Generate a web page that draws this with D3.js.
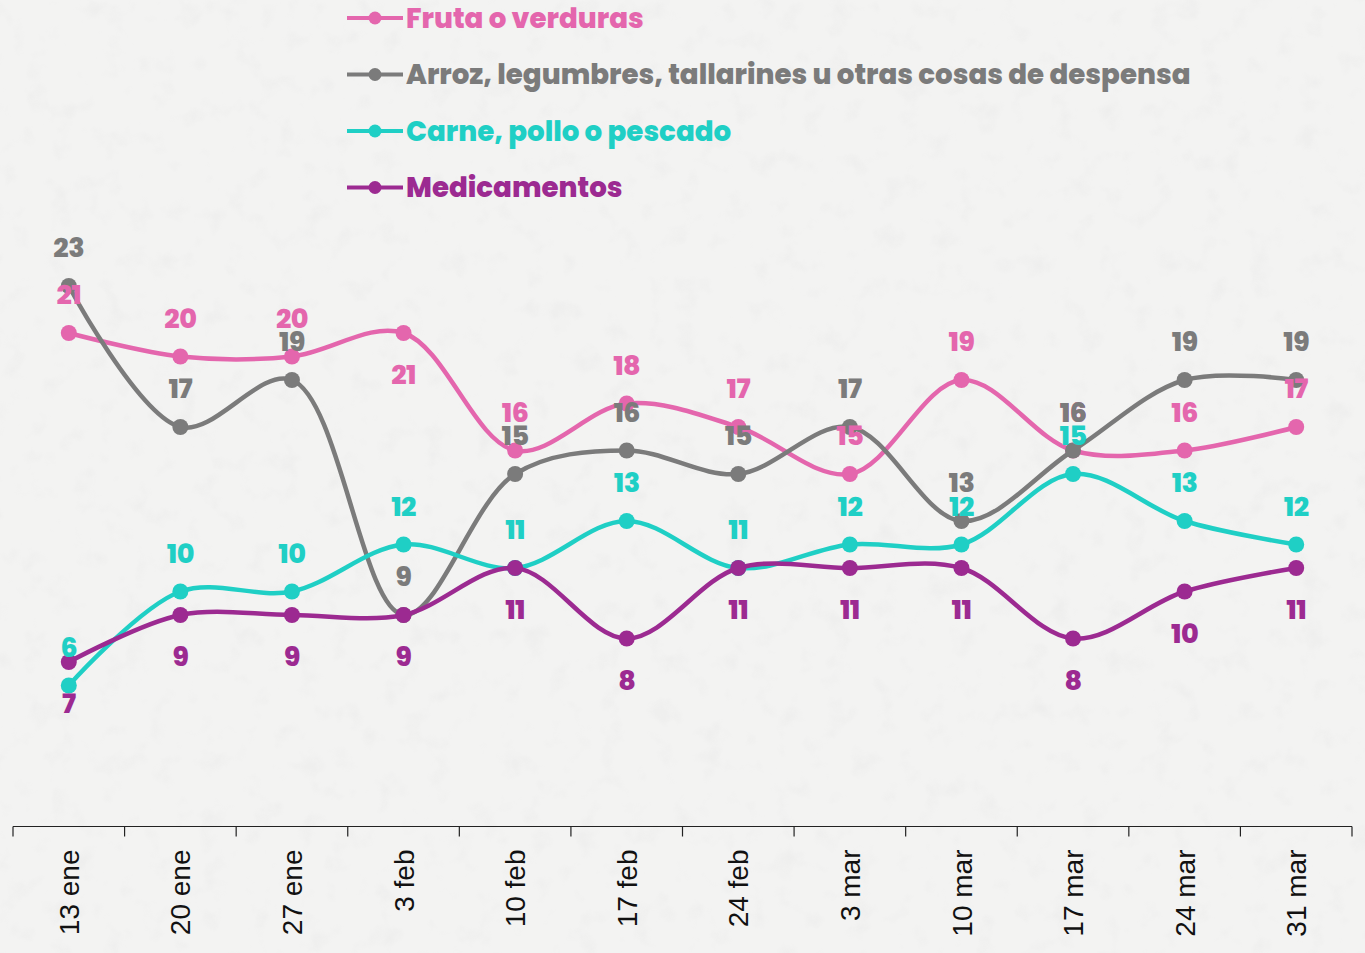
<!DOCTYPE html>
<html>
<head>
<meta charset="utf-8">
<script src="https://cdn.jsdelivr.net/npm/d3@7"></script>
<style>
  html, body { margin: 0; padding: 0; background: #f3f3f2; }
  svg { display: block; }
</style>
</head>
<body>
<div id="chart"></div>
<script>
// data
const weeks = ["13 ene", "20 ene", "27 ene", "3 feb", "10 feb", "17 feb", "24 feb", "3 mar", "10 mar", "17 mar", "24 mar", "31 mar"];
const fruta = [21, 20, 20, 21, 16, 18, 17, 15, 19, 16, 16, 17];
const arroz = [23, 17, 19, 9, 15, 16, 15, 17, 13, 16, 19, 19];
const carne = [6, 10, 10, 12, 11, 13, 11, 12, 12, 15, 13, 12];
const medicamentos = [7, 9, 9, 9, 11, 8, 11, 11, 11, 8, 10, 11];

const seriesNames = ["Fruta o verduras", "Arroz, legumbres, tallarines u otras cosas de despensa", "Carne, pollo o pescado", "Medicamentos"];
const seriesColors = ["#e466ad", "#7b7b7b", "#1fcfc5", "#9c2a91"];
const seriesValues = [fruta, arroz, carne, medicamentos];
// label side per series, with the odd exception
const labelSide = ["above", "above", "above", "below"];
const labelFlips = { 0: [3] };

const W = 1365, H = 953;
const margin = { left: 13, right: 13, axisY: 826.5 };

const svg = d3.select("#chart").append("svg")
  .attr("width", W).attr("height", H);

// paper-like background
const defs = svg.append("defs");
const f = defs.append("filter").attr("id", "paper").attr("x", 0).attr("y", 0).attr("width", "100%").attr("height", "100%");
f.append("feTurbulence").attr("type", "fractalNoise").attr("baseFrequency", 0.04).attr("numOctaves", 3).attr("seed", 7).attr("result", "n");
f.append("feColorMatrix").attr("in", "n").attr("type", "matrix")
  .attr("values", "0 0 0 0 0.6  0 0 0 0 0.6  0 0 0 0 0.6  0 0 0 -1.8 0.8");
svg.append("rect").attr("width", W).attr("height", H).attr("fill", "#f3f3f2");
svg.append("rect").attr("width", W).attr("height", H).attr("filter", "url(#paper)").attr("opacity", 0.18);

const x = d3.scalePoint().domain(weeks).range([margin.left, W - margin.right]).padding(0.5);
const step = x.step();
const y = d3.scaleLinear().domain([0, 25]).range([margin.axisY, margin.axisY - 25 * 23.5]);

// x axis
const axis = svg.append("g").attr("transform", `translate(0,${margin.axisY})`);
axis.append("line").attr("x1", margin.left).attr("x2", W - margin.right)
  .attr("stroke", "#222").attr("stroke-width", 1.2);
const bounds = weeks.map(d => x(d) - step / 2).concat([x(weeks[weeks.length - 1]) + step / 2]);
axis.selectAll("line.tick").data(bounds).join("line")
  .attr("class", "tick")
  .attr("x1", d => d).attr("x2", d => d).attr("y1", 0).attr("y2", 10)
  .attr("stroke", "#222").attr("stroke-width", 1.2);
axis.selectAll("text").data(weeks).join("text")
  .attr("transform", d => `translate(${x(d)},23) rotate(-90)`)
  .attr("text-anchor", "end")
  .attr("dy", "0.36em")
  .attr("font-family", "'Liberation Sans', Arial, sans-serif")
  .attr("font-size", 28)
  .attr("fill", "#111")
  .text(d => d);

const line = d3.line()
  .x((d, i) => x(weeks[i]))
  .y(d => y(d))
  .curve(d3.curveCatmullRom.alpha(0.5));

const font = "Poppins, 'Open Sans', 'Noto Sans', sans-serif";

seriesValues.forEach((vals, s) => {
  const g = svg.append("g");
  g.append("path").datum(vals)
    .attr("d", line)
    .attr("fill", "none")
    .attr("stroke", seriesColors[s])
    .attr("stroke-width", 4.5);
  g.selectAll("circle").data(vals).join("circle")
    .attr("cx", (d, i) => x(weeks[i]))
    .attr("cy", d => y(d))
    .attr("r", 8)
    .attr("fill", seriesColors[s]);
});

// value labels drawn after all lines
seriesValues.forEach((vals, s) => {
  const flips = labelFlips[s] || [];
  svg.append("g").selectAll("text").data(vals).join("text")
    .attr("x", (d, i) => x(weeks[i]))
    .attr("y", (d, i) => {
      let side = labelSide[s];
      if (flips.includes(i)) side = side === "above" ? "below" : "above";
      return side === "above" ? y(d) - 38 : y(d) + 42;
    })
    .attr("dy", "0.35em")
    .attr("text-anchor", "middle")
    .attr("font-family", font)
    .attr("font-weight", 800)
    .attr("font-size", 27)
    .attr("letter-spacing", -0.5)
    .attr("fill", seriesColors[s])
    .text(d => d);
});

// legend
const legend = svg.append("g").attr("transform", "translate(347,18)");
seriesNames.forEach((name, s) => {
  const row = legend.append("g").attr("transform", `translate(0,${s * 56.5})`);
  row.append("line").attr("x1", 0).attr("x2", 56)
    .attr("stroke", seriesColors[s]).attr("stroke-width", 4);
  row.append("circle").attr("cx", 28).attr("r", 6.5).attr("fill", seriesColors[s]);
  row.append("text").attr("x", 59).attr("dy", "0.36em")
    .attr("font-family", font)
    .attr("font-weight", 800)
    .attr("font-size", 27.7)
    .attr("fill", seriesColors[s])
    .text(name);
});
</script>
</body>
</html>
